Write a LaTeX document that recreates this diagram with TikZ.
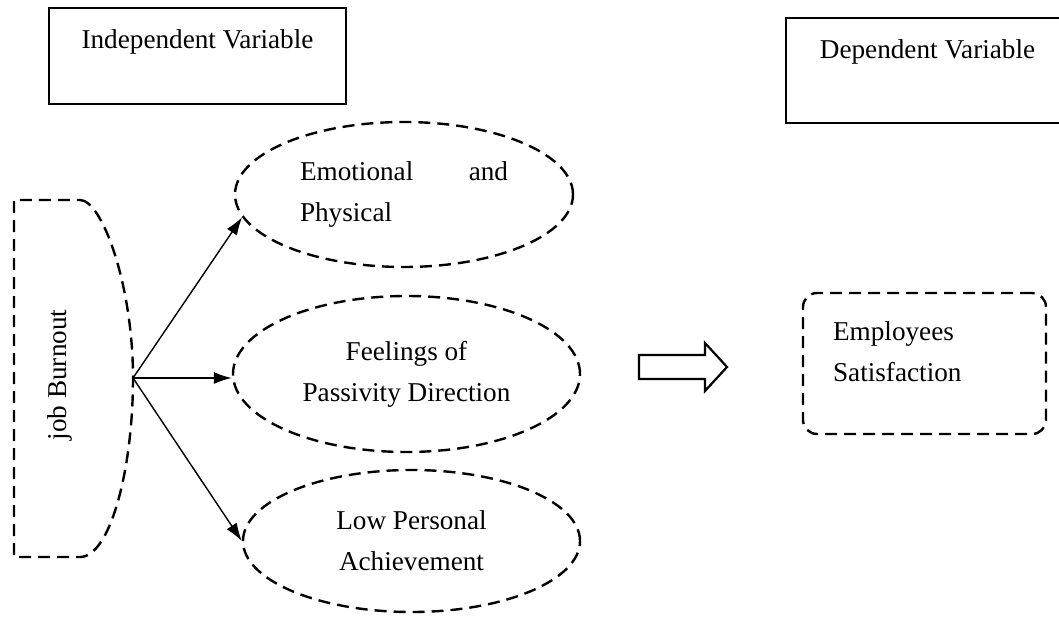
\documentclass[tikz,border=0pt]{standalone}
\usepackage{fontspec}
\setmainfont{Liberation Serif}
\usetikzlibrary{arrows.meta,shapes.geometric}

\tikzset{
    varbox/.style={draw, line width=1.1pt, inner sep=0pt},
    dashline/.style={line width=1.2pt, dash pattern=on 6pt off 3.5pt},
    dimbox/.style={ellipse, dashline, draw, inner sep=0pt},
    linkarrow/.style={-{Latex[length=9pt,width=6pt]}, line width=0.7pt}
}

\begin{document}
\begin{tikzpicture}[x=0.5pt, y=-0.5pt, font=\fontsize{13.6}{20.5}\selectfont]
    \useasboundingbox (0,0) rectangle (1059,619);

    % Draw the two variable boxes
    \node[varbox, minimum width=148.5pt, minimum height=48pt] (indep) at (197.5,56) {};
    \node (indeptext) at (197.5,42) {Independent Variable};
    \node[inner sep=0pt, anchor=north west, minimum width=200pt, minimum height=52pt] (dep) at (786,18) {};
    \draw[line width=1.1pt] (dep.north east) -- (dep.north west) -- (dep.south west) -- (dep.south east);
    \node (deptext) at (927.5,52) {Dependent Variable};

    % Draw the job burnout shape
    \draw[dashline] (80,200) .. controls (102,200) and (133,285) .. (133,378)
        .. controls (133,470) and (110,557) .. (80,557) -- (14,557) -- (14,200) -- cycle;
    \node[rotate=90] (burntext) at (60,375) {job Burnout};
    \coordinate (burn) at (133,378);

    % Draw the three dimensions
    \node[dimbox, minimum width=169pt, minimum height=72.5pt] (emo) at (404,194.5)
        {\parbox{104pt}{\parfillskip=0pt plus 1fil Emotional and Physical}};
    \node[dimbox, minimum width=173.5pt, minimum height=78pt, align=center] (feel) at (406.5,374)
        {Feelings of\\Passivity Direction};
    \node[dimbox, minimum width=168.5pt, minimum height=71pt, align=center] (low) at (411.5,541)
        {Low Personal\\Achievement};

    % Draw the arrows to the dimensions
    \draw[linkarrow] (burn) -- (emo.188);
    \draw[linkarrow] (burn) -- (burn -| feel.west);
    \draw[linkarrow] (burn) -- (low.west);

    % Draw the block arrow
    \draw[line width=1.1pt] (639,355) -- (705,355) -- (705,343) -- (727,367)
        -- (705,391) -- (705,379) -- (639,379) -- cycle;

    % Draw the dependent variable
    \node[draw, dashline, rounded corners=7pt, minimum width=121.5pt, minimum height=70.5pt] (sat) at (924.5,363.5) {};
    \node[anchor=west, align=left] (sattext) at (826,352) {Employees\\Satisfaction};
\end{tikzpicture}
\end{document}
